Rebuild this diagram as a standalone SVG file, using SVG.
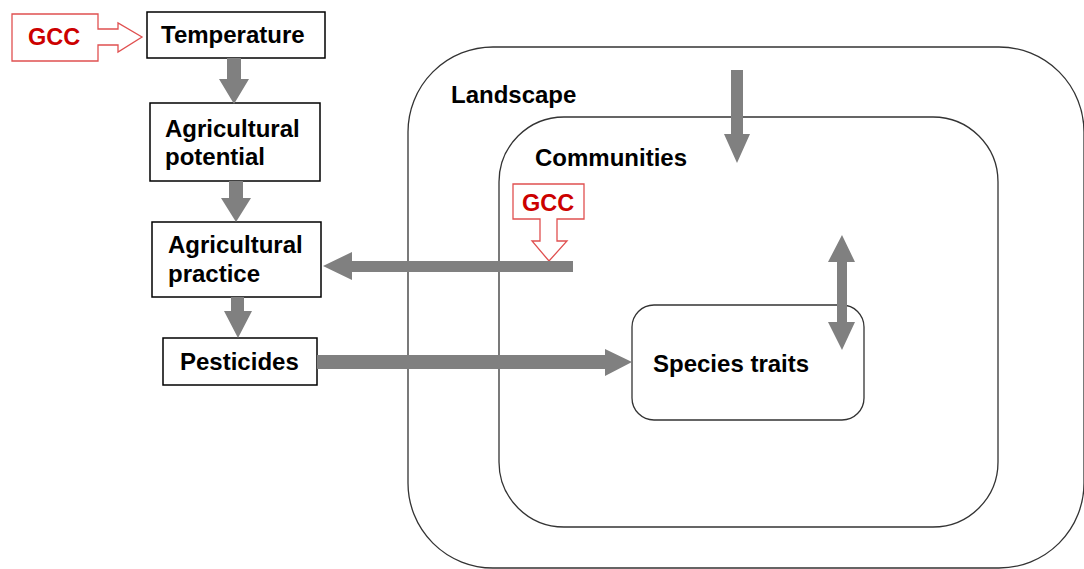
<svg xmlns="http://www.w3.org/2000/svg" width="1084" height="569" viewBox="0 0 1084 569">
<style>
.box{fill:#fff;stroke:#000;stroke-width:1.5}
.region{fill:none;stroke:#333;stroke-width:1.3}
.t{font-family:"Liberation Sans",Arial,sans-serif;font-weight:bold;font-size:24px;fill:#000}
.red{font-family:"Liberation Sans",Arial,sans-serif;font-weight:bold;font-size:23.5px;fill:#cc0000}
.gcc{fill:#fff;stroke:#e05050;stroke-width:1.3}
.arr{fill:#808080;stroke:none}
</style>
<rect width="1084" height="569" fill="#fff"/>
<g id="landscape">
<rect class="region" x="408" y="47" width="676" height="521" rx="85" ry="85"/>
<text class="t" x="451" y="103">Landscape</text>
</g>
<g id="communities">
<rect class="region" x="499" y="117" width="499" height="410" rx="65" ry="65"/>
<text class="t" x="535" y="166">Communities</text>
</g>
<g id="species-traits">
<rect class="region" x="632" y="305" width="232" height="115" rx="22" ry="22"/>
<text class="t" x="653" y="372">Species traits</text>
</g>
<g id="temperature">
<rect class="box" x="147" y="12" width="178" height="46"/>
<text class="t" x="161" y="43">Temperature</text>
</g>
<g id="agri-potential">
<rect class="box" x="150" y="103" width="170" height="78"/>
<text class="t" x="165" y="137">Agricultural</text>
<text class="t" x="165" y="165">potential</text>
</g>
<g id="agri-practice">
<rect class="box" x="152" y="222" width="169" height="75"/>
<text class="t" x="168" y="253">Agricultural</text>
<text class="t" x="168" y="282">practice</text>
</g>
<g id="pesticides">
<rect class="box" x="163" y="338" width="154" height="47"/>
<text class="t" x="180" y="370">Pesticides</text>
</g>
<g id="gcc-left">
<path class="gcc" d="M12,14 H98 V29 H118 V23 L142,37 L118,52 V45 H98 V61 H12 Z"/>
<text class="red" x="28" y="45">GCC</text>
</g>
<g id="gcc-right">
<path class="gcc" d="M513,184 H584 V219 H557 V241 H567 L549,261 L532,241 H540 V219 H513 Z"/>
<text class="red" x="522" y="211">GCC</text>
</g>
<g id="connectors">
<path class="arr" d="M227,58 H241 V79 H249 L234,104 L219,79 H227 Z"/>
<path class="arr" d="M229,181 H243 V198 H251 L236,222 L221,198 H229 Z"/>
<path class="arr" d="M231,297 H244 V311 H252 L238,338 L224,311 H231 Z"/>
<path class="arr" d="M317,355 H605 V349 L632,362 L605,376 V369 H317 Z"/>
<path class="arr" d="M573,261 H352 V252 L323,266 L352,280 V272 H573 Z"/>
<path class="arr" d="M731,70 H743 V134 H750 L737,163 L724,134 H731 Z"/>
<path class="arr" d="M842,235 L855,262 H847 V322 H855 L842,350 L828,322 H837 V262 H828 Z"/>
</g>
</svg>
